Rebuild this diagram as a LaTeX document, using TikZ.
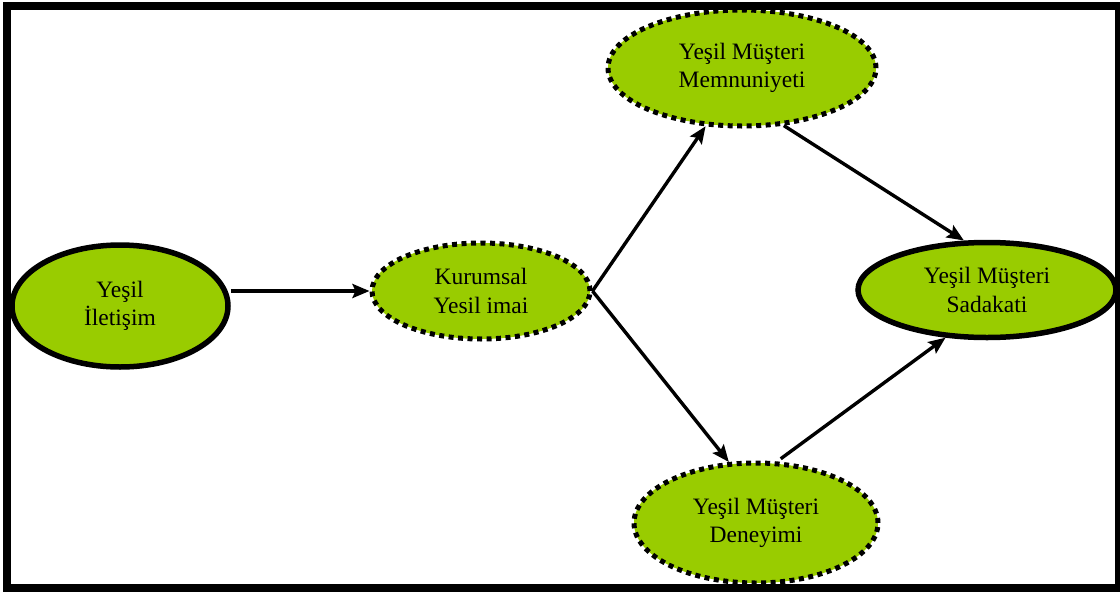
\documentclass[tikz,border=0pt]{standalone}
\usepackage{fontspec}
\setmainfont{Liberation Serif}
\usetikzlibrary{arrows.meta,shapes.geometric}

\definecolor{leaf}{HTML}{99CC00}

\tikzset{
  concept/.style={ellipse, fill=leaf, inner sep=0pt, align=center,
    font=\fontsize{23.5}{28.5}\selectfont},
  solidring/.style={concept, draw=black, line width=5.5pt},
  dotring/.style={concept, draw=black, line width=5pt, dash pattern=on 5pt off 4.5pt},
  link/.style={draw=black, line width=3.4pt,
    -{Stealth[length=17pt,width=14pt,inset=3pt]}},
}

\begin{document}
\begin{tikzpicture}[x=1pt,y=-1pt]
\useasboundingbox (0,0) rectangle (1120,592);

% outer frame
\draw[line width=8pt] (7,6) rectangle (1118.5,588);

% concepts
\node[solidring, minimum width=216pt, minimum height=122pt] (com) at (120,306) {Yeşil\\İletişim};
\node[dotring, minimum width=218pt, minimum height=96pt] (img) at (481,291) {Kurumsal\\Yesil imai};
\node[dotring, minimum width=268pt, minimum height=116pt] (sat) at (742,68) {Yeşil Müşteri\\Memnuniyeti};
\node[dotring, minimum width=244pt, minimum height=120pt] (exp) at (756,523) {Yeşil Müşteri\\Deneyimi};
\node[solidring, minimum width=258pt, minimum height=95pt] (loy) at (987,290) {Yeşil Müşteri\\Sadakati};

% relations
\draw[link] (com.east |- img.west) -- (img.west);
\draw[link] (img.east) -- (sat.238);
\draw[link] (img.east) -- (exp.114);
\draw[link] (sat.306) -- (loy.115);
\draw[link] ([yshift=3pt]exp.68) -- (loy.229);
\end{tikzpicture}
\end{document}
